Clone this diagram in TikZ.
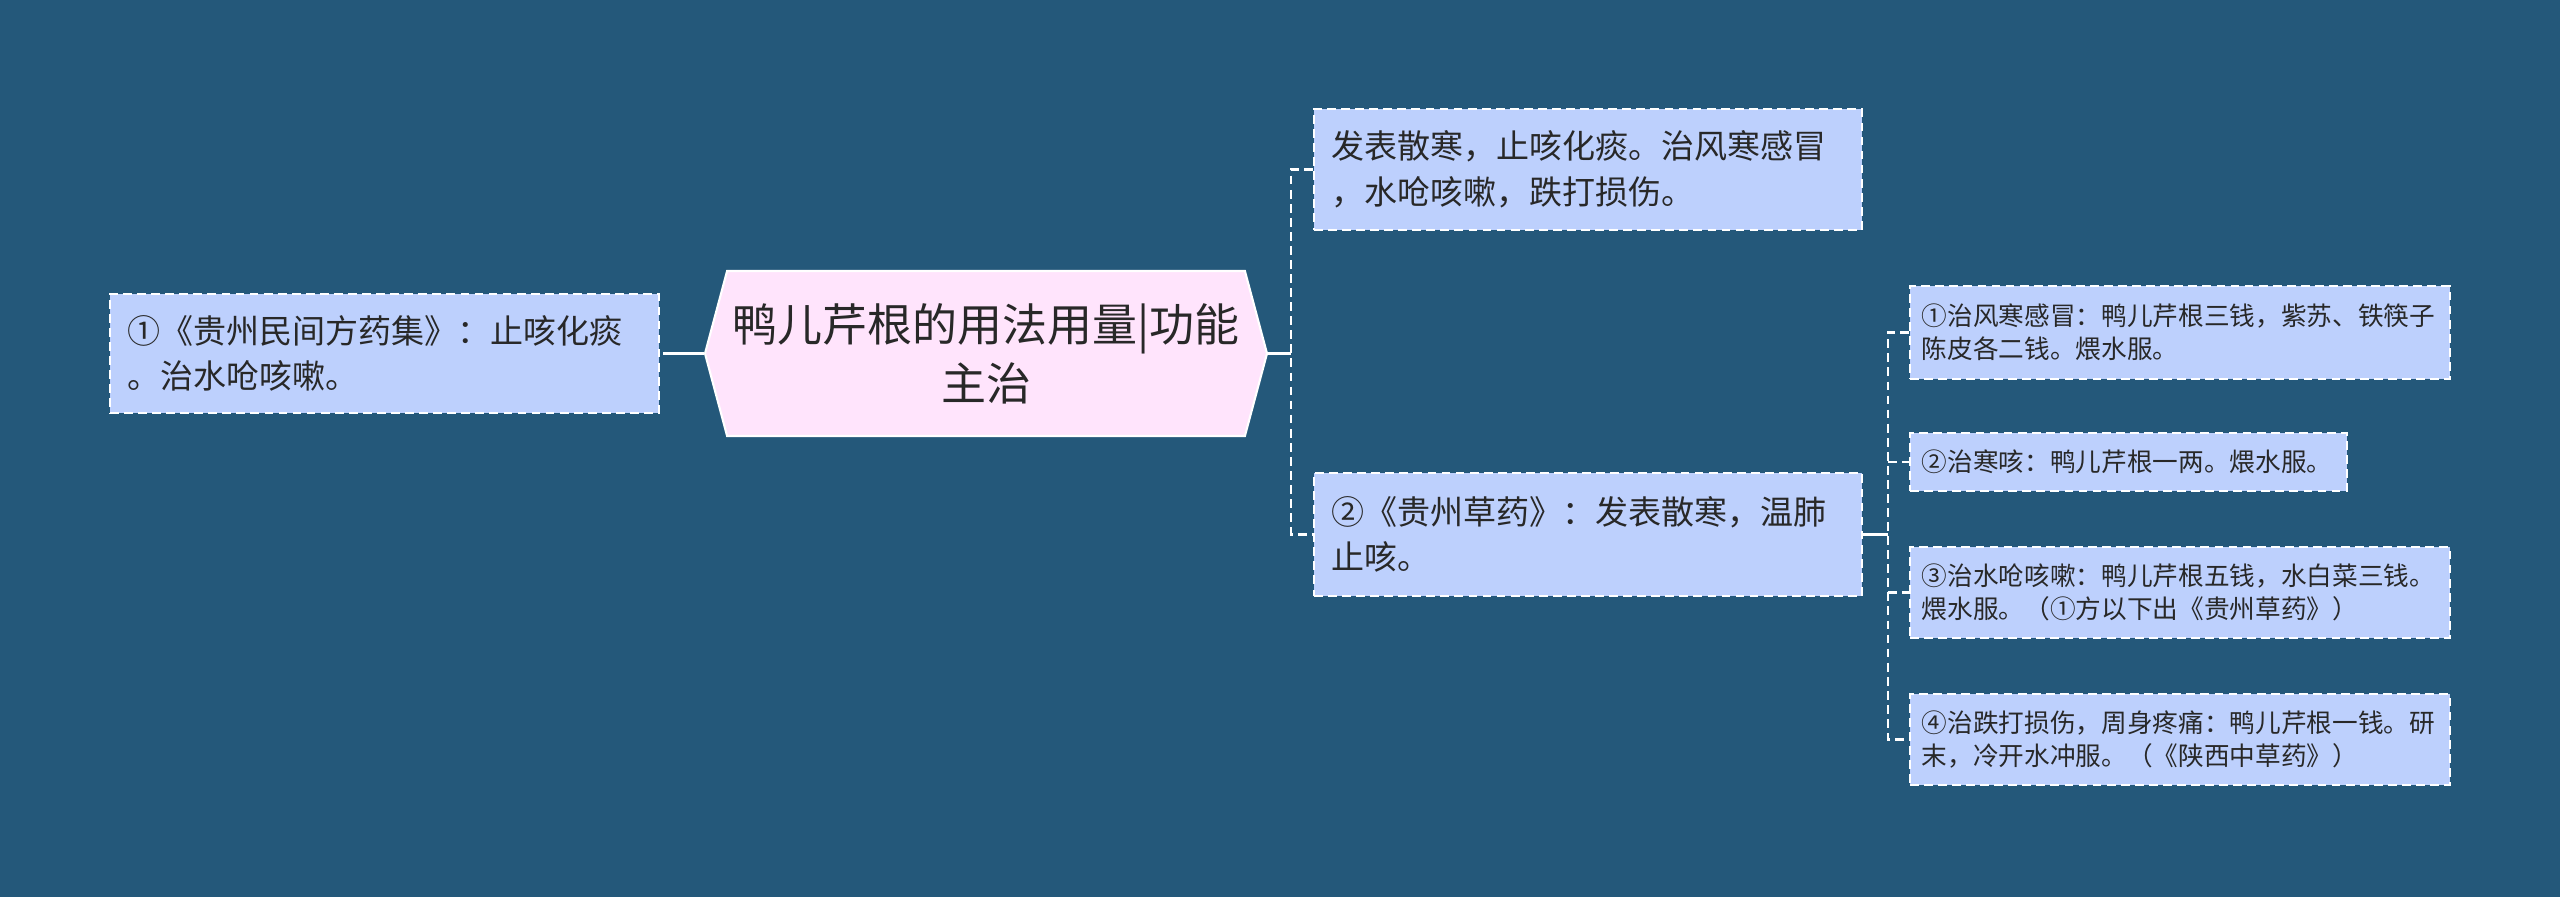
\documentclass[tikz,border=0pt]{standalone}
\usepackage{fontspec}
\newfontfamily\cjk{Noto Sans CJK SC}
\usetikzlibrary{calc, shapes.symbols}
\definecolor{bgblue}{RGB}{36,88,122}
\definecolor{leafblue}{RGB}{189,208,253}
\definecolor{rootpink}{RGB}{255,228,252}
\definecolor{inkgray}{RGB}{40,40,40}
\tikzset{
  leaf/.style={draw=white, dash pattern=on 2.5pt off 1.5pt, line width=0.5pt,
    fill=leafblue, text=inkgray, align=left, anchor=west,
    inner xsep=0.175cm, inner ysep=3pt, text width=5.14cm,
    font=\cjk\fontsize{9.4}{13}\selectfont},
  smallleaf/.style={leaf, inner xsep=0.12cm, text width=5.16cm,
    font=\cjk\fontsize{7.3}{9.3}\selectfont},
  link/.style={draw=white, line width=0.6pt},
  dashlink/.style={link, dash pattern=on 2.5pt off 1.5pt}
}
\begin{document}
\begin{tikzpicture}
  % Background
  \fill[bgblue] (0,0) rectangle (25.6,8.97);
  \useasboundingbox (0,0) rectangle (25.6,8.97);

  % Root
  \node[signal, signal to=west and east, signal pointer angle=150,
    minimum width=5.62cm, minimum height=1.65cm, inner xsep=0.5pt,
    fill=rootpink, draw=white,
    line width=0.6pt, text=inkgray, align=center,
    font=\cjk\fontsize{12.8}{16.7}\selectfont] (root) at (9.86,5.435)
    {鸭儿芹根的用法用量|功能\\主治};

  % Branches
  \node[leaf, minimum height=1.19cm] (left) at (1.09,5.435)
    {①《贵州民间方药集》：止咳化痰\\。治水呛咳嗽。};
  \node[leaf, minimum height=1.21cm, text width=5.13cm] (top) at (13.13,7.275)
    {发表散寒，止咳化痰。治风寒感冒\\，水呛咳嗽，跌打损伤。};
  \node[leaf, minimum height=1.23cm, text width=5.13cm] (mid) at (13.13,3.625)
    {②《贵州草药》：发表散寒，温肺\\止咳。};

  % Recipes
  \node[smallleaf, minimum height=0.93cm] (c1) at (19.09,5.645)
    {①治风寒感冒：鸭儿芹根三钱，紫苏、铁筷子\\陈皮各二钱。煨水服。};
  \node[smallleaf, minimum height=0.58cm, text width=4.13cm] (c2) at (19.09,4.35)
    {②治寒咳：鸭儿芹根一两。煨水服。};
  \node[smallleaf, minimum height=0.91cm] (c3) at (19.09,3.045)
    {③治水呛咳嗽：鸭儿芹根五钱，水白菜三钱。\\煨水服。（①方以下出《贵州草药》）};
  \node[smallleaf, minimum height=0.91cm] (c4) at (19.09,1.575)
    {④治跌打损伤，周身疼痛：鸭儿芹根一钱。研\\末，冷开水冲服。（《陕西中草药》）};

  % Connectors
  \draw[link] (root.west) -- ++(-0.32,0) coordinate (lj);
  \draw[dashlink] (lj) -- (left.east);
  \draw[link] (root.east) -- ++(0.23,0) coordinate (rj);
  \draw[dashlink] (top.west) -- (top.west -| rj) -- (mid.west -| rj) -- (mid.west);
  \draw[link] (mid.east) -- ++(0.25,0) coordinate (mj);
  \draw[dashlink] (c1.west) -- (c1.west -| mj) -- (c4.west -| mj) -- (c4.west);
  \foreach \n in {c2,c3}
    \draw[dashlink] (\n.west -| mj) -- (\n.west);
\end{tikzpicture}
\end{document}
